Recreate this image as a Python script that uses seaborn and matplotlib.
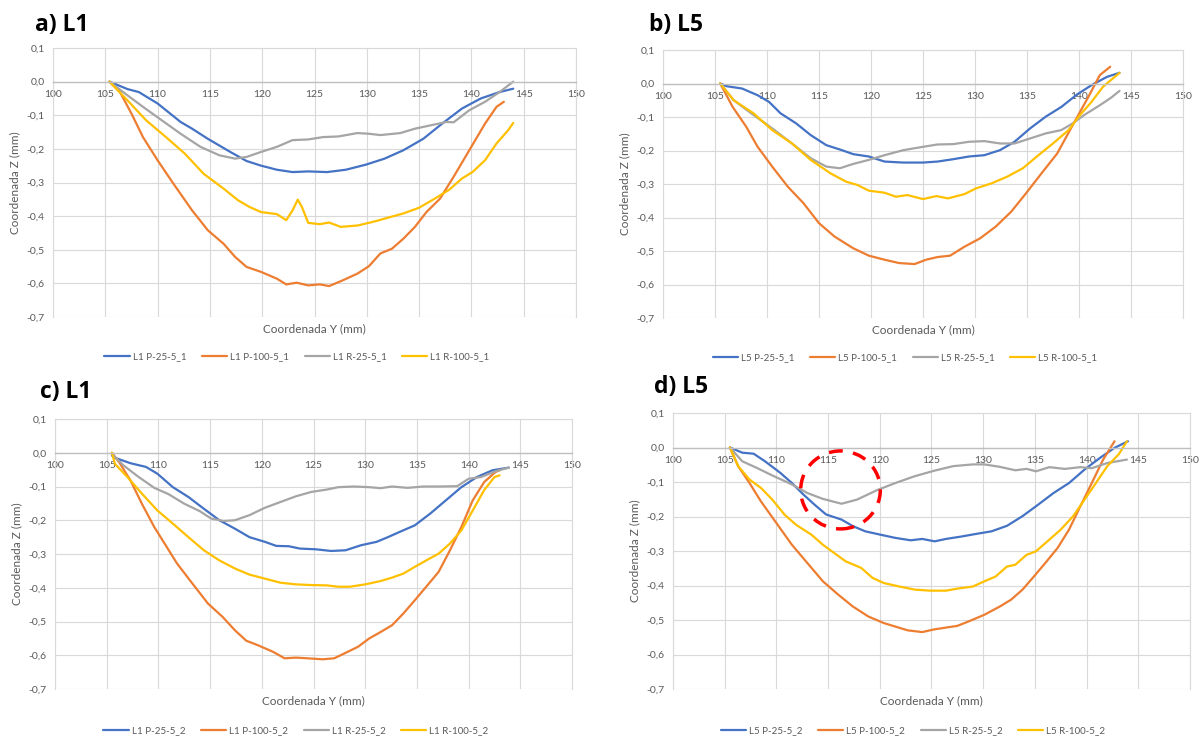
import numpy as np
import pandas as pd
import matplotlib
matplotlib.use("Agg")
import matplotlib.pyplot as plt
import seaborn as sns
from matplotlib.patches import Ellipse

# ---------------- data ----------------
# Panel a) L1, run _1
A_P25_X = [105.4,107.1,108.2,110.0,112.2,113.3,114.8,117.0,118.5,119.9,121.4,122.9,124.4,126.2,128.0,129.9,131.7,133.5,135.4,137.2,139.1,140.9,142.7,144.0]
A_P25_Z = [0,-0.022,-0.031,-0.065,-0.12,-0.14,-0.17,-0.21,-0.236,-0.25,-0.262,-0.269,-0.267,-0.269,-0.262,-0.247,-0.229,-0.204,-0.17,-0.125,-0.08,-0.05,-0.031,-0.021]
A_P100_X = [105.4,106.4,107.5,108.6,110.0,111.5,113.3,114.8,116.3,117.4,118.5,119.9,121.4,122.3,123.3,124.4,125.5,126.4,127.7,129.1,130.2,131.3,132.4,133.5,134.6,135.7,137.0,138.3,139.8,141.3,142.4,143.1]
A_P100_Z = [0,-0.031,-0.095,-0.165,-0.234,-0.303,-0.383,-0.442,-0.482,-0.521,-0.551,-0.566,-0.586,-0.603,-0.598,-0.606,-0.603,-0.608,-0.591,-0.571,-0.549,-0.511,-0.497,-0.467,-0.432,-0.388,-0.348,-0.283,-0.204,-0.125,-0.075,-0.06]
A_R25_X = [105.4,106.7,108.6,110.4,112.2,114.1,115.9,117.4,118.5,119.9,121.4,122.9,124.4,125.8,127.3,129.1,130.2,131.3,133.2,134.6,136.1,137.6,138.3,139.8,141.3,142.7,144.0]
A_R25_Z = [0,-0.031,-0.075,-0.115,-0.155,-0.194,-0.219,-0.229,-0.224,-0.209,-0.194,-0.174,-0.172,-0.165,-0.163,-0.153,-0.155,-0.159,-0.153,-0.14,-0.13,-0.12,-0.121,-0.085,-0.06,-0.031,0.0]
A_R100_X = [105.4,107.1,108.9,110.8,112.6,114.4,116.3,117.7,118.8,119.9,121.4,122.3,122.9,123.4,123.8,124.4,125.5,126.4,127.5,129.1,130.6,132.1,133.5,135.0,136.5,137.9,139.1,140.1,141.3,142.4,143.5,144.0]
A_R100_Z = [0,-0.055,-0.115,-0.165,-0.214,-0.274,-0.318,-0.353,-0.373,-0.388,-0.394,-0.412,-0.383,-0.351,-0.373,-0.42,-0.424,-0.419,-0.432,-0.428,-0.417,-0.404,-0.392,-0.375,-0.348,-0.321,-0.288,-0.269,-0.234,-0.184,-0.145,-0.123]

# Panel b) L5, run _1
B_P25_X = [105.5,106.1,107.6,109.1,110.2,111.3,112.8,114.2,115.7,117.2,118.3,119.8,121.3,123.1,125.0,126.4,127.9,129.4,130.9,132.4,133.8,135.3,136.8,138.3,139.8,141.2,142.7,143.9]
B_P25_Z = [0,-0.008,-0.015,-0.035,-0.055,-0.089,-0.119,-0.154,-0.184,-0.199,-0.211,-0.218,-0.233,-0.236,-0.236,-0.233,-0.226,-0.218,-0.214,-0.199,-0.174,-0.134,-0.099,-0.07,-0.033,-0.005,0.02,0.032]
B_P100_X = [105.5,106.7,108.0,109.1,110.5,112.0,113.5,115.0,116.5,118.3,119.8,121.3,122.7,124.2,125.3,126.4,127.6,129.0,130.5,132.0,133.5,134.9,136.4,137.9,139.4,140.9,142.0,143.0]
B_P100_Z = [0,-0.07,-0.129,-0.189,-0.248,-0.308,-0.357,-0.417,-0.457,-0.492,-0.514,-0.526,-0.536,-0.539,-0.526,-0.518,-0.514,-0.487,-0.462,-0.427,-0.382,-0.328,-0.268,-0.209,-0.124,-0.04,0.025,0.05]
B_R25_X = [105.5,106.8,108.7,110.5,112.4,114.2,115.7,117.0,118.3,119.8,121.3,123.1,125.0,126.4,127.9,129.4,130.9,132.4,133.8,135.3,136.8,138.3,139.4,140.5,142.0,143.1,143.9]
B_R25_Z = [0,-0.05,-0.094,-0.134,-0.179,-0.223,-0.248,-0.253,-0.24,-0.228,-0.214,-0.199,-0.189,-0.182,-0.181,-0.174,-0.172,-0.179,-0.179,-0.164,-0.149,-0.139,-0.119,-0.094,-0.065,-0.042,-0.022]
B_R100_X = [105.5,106.8,108.7,110.5,112.4,114.2,116.1,117.6,118.7,119.8,121.3,122.4,123.5,125.0,126.3,127.4,129.0,130.1,131.6,133.1,134.6,136.1,137.5,139.0,140.1,141.2,142.3,143.9]
B_R100_Z = [0,-0.05,-0.089,-0.139,-0.179,-0.228,-0.268,-0.293,-0.303,-0.32,-0.326,-0.338,-0.333,-0.345,-0.336,-0.343,-0.33,-0.313,-0.298,-0.278,-0.253,-0.214,-0.179,-0.139,-0.094,-0.055,-0.01,0.032]

# Panel c) L1, run _2
C_P25_X = [105.5,105.8,107.3,108.8,109.9,111.4,112.9,114.4,115.9,117.4,118.8,120.3,121.4,122.6,123.7,125.2,126.7,128.1,129.6,131.1,132.2,133.3,134.8,136.3,137.8,139.3,140.8,142.3,143.9]
C_P25_Z = [-0.008,-0.015,-0.031,-0.042,-0.062,-0.102,-0.131,-0.166,-0.2,-0.225,-0.25,-0.264,-0.276,-0.277,-0.284,-0.286,-0.291,-0.289,-0.274,-0.264,-0.25,-0.235,-0.215,-0.18,-0.141,-0.102,-0.072,-0.052,-0.044]
C_P100_X = [105.5,106.2,107.3,108.4,109.6,110.7,111.8,113.3,114.8,116.2,117.4,118.5,119.6,121.1,122.2,123.3,124.4,125.9,127.0,128.1,129.3,130.4,131.5,132.6,133.7,134.8,135.9,137.1,138.2,139.3,140.4,141.5,142.6,143.0]
C_P100_Z = [0,-0.028,-0.082,-0.151,-0.22,-0.274,-0.328,-0.388,-0.447,-0.486,-0.526,-0.557,-0.57,-0.59,-0.609,-0.607,-0.609,-0.612,-0.609,-0.593,-0.575,-0.55,-0.531,-0.511,-0.476,-0.437,-0.397,-0.353,-0.289,-0.22,-0.141,-0.087,-0.057,-0.052]
C_R25_X = [105.5,106.6,108.1,109.6,111.0,112.5,114.0,115.1,116.3,117.4,118.8,120.3,121.8,123.3,124.8,126.3,127.4,128.9,130.4,131.5,132.6,134.1,135.6,137.1,138.9,140.0,141.2,142.6,143.9]
C_R25_Z = [-0.003,-0.037,-0.072,-0.104,-0.123,-0.151,-0.173,-0.195,-0.202,-0.2,-0.185,-0.163,-0.146,-0.129,-0.116,-0.109,-0.102,-0.1,-0.102,-0.105,-0.1,-0.104,-0.1,-0.1,-0.099,-0.077,-0.072,-0.055,-0.044]
C_R100_X = [105.5,105.8,107.0,108.4,109.9,111.4,112.9,114.4,115.9,117.4,118.8,120.3,121.8,123.3,124.8,126.3,127.4,128.5,130.0,131.5,132.6,133.7,134.8,135.9,137.1,138.2,139.3,140.4,141.5,142.5,143.0]
C_R100_Z = [0,-0.033,-0.072,-0.121,-0.171,-0.21,-0.25,-0.289,-0.319,-0.343,-0.361,-0.373,-0.385,-0.39,-0.392,-0.393,-0.397,-0.397,-0.39,-0.38,-0.37,-0.358,-0.338,-0.319,-0.299,-0.269,-0.23,-0.171,-0.111,-0.072,-0.067]

# Panel d) L5, run _2
D_P25_X = [105.5,106.7,107.8,108.9,110.4,111.5,112.6,113.7,114.8,116.3,117.4,118.6,120.1,121.5,123.0,124.1,125.3,126.4,127.9,129.4,130.8,132.3,133.8,135.3,136.8,138.3,139.8,141.3,142.7,144.0]
D_P25_Z = [0,-0.015,-0.018,-0.04,-0.074,-0.103,-0.136,-0.166,-0.194,-0.209,-0.228,-0.243,-0.253,-0.262,-0.269,-0.265,-0.272,-0.265,-0.258,-0.25,-0.243,-0.227,-0.199,-0.166,-0.132,-0.103,-0.064,-0.03,-0.001,0.018]
D_P100_X = [105.5,106.3,107.4,108.5,110.0,111.5,113.0,114.5,116.0,117.4,118.9,120.4,121.5,122.7,124.1,125.3,126.4,127.5,128.6,130.1,131.6,132.7,133.8,134.9,136.0,137.2,138.3,139.4,140.5,141.6,142.7]
D_P100_Z = [0,-0.054,-0.103,-0.156,-0.219,-0.282,-0.335,-0.388,-0.427,-0.461,-0.49,-0.509,-0.519,-0.53,-0.535,-0.527,-0.522,-0.517,-0.504,-0.485,-0.461,-0.441,-0.412,-0.374,-0.335,-0.291,-0.238,-0.17,-0.103,-0.035,0.018]
D_R25_X = [105.5,106.7,108.1,109.6,111.5,113.0,114.5,116.3,117.8,119.7,121.5,123.4,125.3,127.1,129.0,130.1,131.6,133.1,134.2,135.1,136.4,137.9,139.4,140.5,142.0,143.9]
D_R25_Z = [0,-0.04,-0.059,-0.081,-0.107,-0.132,-0.149,-0.163,-0.151,-0.124,-0.103,-0.083,-0.067,-0.054,-0.049,-0.049,-0.056,-0.066,-0.062,-0.069,-0.057,-0.062,-0.057,-0.06,-0.045,-0.035]
D_R100_X = [105.5,106.3,107.4,108.5,109.6,110.8,111.9,113.4,114.5,115.6,116.7,118.2,119.3,120.4,121.9,123.4,124.9,126.4,127.5,129.0,130.1,131.2,132.3,133.1,134.2,135.1,136.4,137.5,138.7,139.8,140.9,142.0,143.1,143.9]
D_R100_Z = [0,-0.054,-0.093,-0.117,-0.151,-0.195,-0.224,-0.253,-0.282,-0.306,-0.33,-0.349,-0.378,-0.393,-0.403,-0.412,-0.415,-0.415,-0.409,-0.403,-0.388,-0.374,-0.345,-0.34,-0.311,-0.301,-0.267,-0.238,-0.199,-0.151,-0.103,-0.054,-0.02,0.018]

PANEL_TITLES = ["a) L1", "b) L5", "c) L1", "d) L5"]
SERIES_SUFFIX = ["P-25-5", "P-100-5", "R-25-5", "R-100-5"]
PANEL_PREFIX = ["L1", "L5", "L1", "L5"]
PANEL_RUN = ["1", "1", "2", "2"]
X_TICKS = [100, 105, 110, 115, 120, 125, 130, 135, 140, 145, 150]
Y_TICKS = [0.1, 0.0, -0.1, -0.2, -0.3, -0.4, -0.5, -0.6, -0.7]
Y_TICK_LABELS = ["0,1", "0,0", "-0,1", "-0,2", "-0,3", "-0,4", "-0,5", "-0,6", "-0,7"]
X_LABEL = "Coordenada Y (mm)"
Y_LABEL = "Coordenada Z (mm)"
# highlighted region in panel d (centre x, centre z)
CIRCLE_CENTER = (116.2, -0.123)

PANEL_DATA = [
    [(A_P25_X, A_P25_Z), (A_P100_X, A_P100_Z), (A_R25_X, A_R25_Z), (A_R100_X, A_R100_Z)],
    [(B_P25_X, B_P25_Z), (B_P100_X, B_P100_Z), (B_R25_X, B_R25_Z), (B_R100_X, B_R100_Z)],
    [(C_P25_X, C_P25_Z), (C_P100_X, C_P100_Z), (C_R25_X, C_R25_Z), (C_R100_X, C_R100_Z)],
    [(D_P25_X, D_P25_Z), (D_P100_X, D_P100_Z), (D_R25_X, D_R25_Z), (D_R100_X, D_R100_Z)],
]

COLORS = ["#4472C4", "#ED7D31", "#A5A5A5", "#FFC000"]

# ---------------- styling ----------------
sns.set_theme(style="white")
plt.rcParams["font.family"] = ["Lato", "DejaVu Sans"]
TXT = "#595959"

fig = plt.figure(figsize=(12.02, 7.40), dpi=100)
W, H = 1202.0, 740.0

# axes rectangles in pixels: left, right, top, bottom
AX_PX = [(53, 576, 48, 317), (663, 1183, 50, 318), (55, 572, 419, 689), (673, 1190, 413, 689)]
TITLE_PX = [(35, 31), (649, 31), (40, 398), (654, 393)]
LEGEND_PX = [(297, 357), (905, 358), (296, 731), (913, 731)]
YLAB_PX = [20, 630, 22, 640]

for i in range(4):
    l, r, t, b = AX_PX[i]
    ax = fig.add_axes([l / W, 1 - b / H, (r - l) / W, (b - t) / H])
    rows = []
    for k, (xs, zs) in enumerate(PANEL_DATA[i]):
        name = f"{PANEL_PREFIX[i]} {SERIES_SUFFIX[k]}_{PANEL_RUN[i]}"
        for xv, zv in zip(xs, zs):
            rows.append({"Y": xv, "Z": zv, "serie": name})
    df = pd.DataFrame(rows)
    order = [f"{PANEL_PREFIX[i]} {s}_{PANEL_RUN[i]}" for s in SERIES_SUFFIX]
    sns.lineplot(data=df, x="Y", y="Z", hue="serie", hue_order=order, palette=COLORS,
                 sort=False, estimator=None, linewidth=1.6, ax=ax, legend=True)
    for ln in ax.get_lines():
        ln.set_solid_joinstyle("round")
        ln.set_solid_capstyle("round")

    ax.set_xlim(100, 150)
    ax.set_ylim(-0.7, 0.1)
    ax.set_xticks(X_TICKS)
    ax.set_yticks(Y_TICKS)
    ax.set_yticklabels(Y_TICK_LABELS)
    ax.grid(True, color="#D9D9D9", linewidth=0.8)
    ax.set_axisbelow(True)
    for s in ["left", "right", "top"]:
        ax.spines[s].set_visible(True)
        ax.spines[s].set_color("#D9D9D9")
        ax.spines[s].set_linewidth(0.8)
    ax.spines["bottom"].set_position(("data", 0))
    ax.spines["bottom"].set_color("#BFBFBF")
    ax.spines["bottom"].set_linewidth(1.0)
    ax.tick_params(axis="both", length=0, labelsize=7.5, labelcolor=TXT)
    ax.tick_params(axis="x", pad=6)
    ax.tick_params(axis="y", pad=6)

    ax.set_xlabel(X_LABEL, fontsize=8.5, color=TXT)
    ax.xaxis.set_label_coords(0.5, -0.022)
    ax.set_ylabel(Y_LABEL, fontsize=8.5, color=TXT)
    ax.yaxis.set_label_coords((YLAB_PX[i] - l) / (r - l), 0.5)

    # legend below
    handles, labels = ax.get_legend_handles_labels()
    ax.get_legend().remove()
    lx, ly = LEGEND_PX[i]
    fig.legend(handles, labels, loc="center", bbox_to_anchor=(lx / W, 1 - ly / H),
               ncol=4, frameon=False, fontsize=7, handlelength=2.6, handletextpad=0.3,
               columnspacing=1.6, labelcolor=TXT)

    tx, ty = TITLE_PX[i]
    fig.text(tx / W, 1 - ty / H, PANEL_TITLES[i], fontsize=16.5, fontweight="bold",
             family=["Open Sans", "DejaVu Sans"], color="black", ha="left", va="baseline")

    if i == 3:
        circ = Ellipse(CIRCLE_CENTER, width=7.7, height=0.226, fill=False,
                       edgecolor="#FF0000", linestyle=(0, (4, 3)), linewidth=2.5, zorder=5)
        ax.add_patch(circ)

fig.savefig("out.png", dpi=100, facecolor="white")
